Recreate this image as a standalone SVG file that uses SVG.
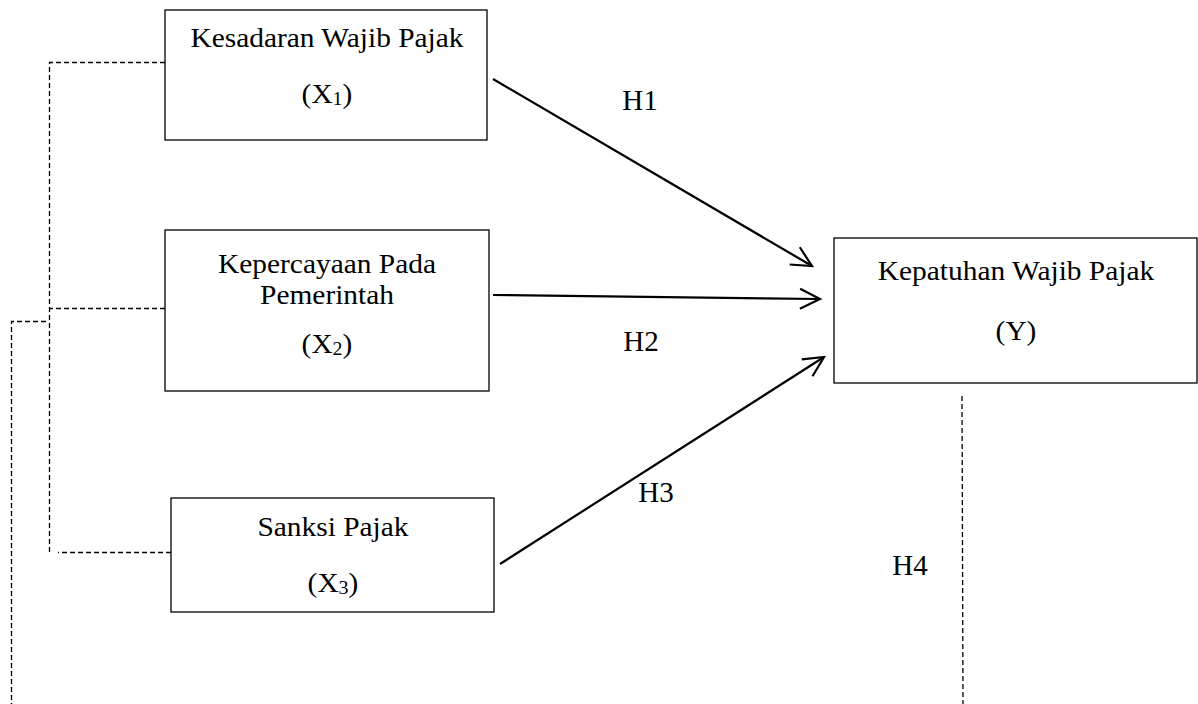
<svg xmlns="http://www.w3.org/2000/svg" width="1198" height="704" viewBox="0 0 1198 704">
<style>
.box{fill:#fff;stroke:#000;stroke-width:1.3}
.t{font-family:"Liberation Serif","Times New Roman",serif;font-size:26.5px;fill:#000;text-anchor:middle}
.sub{font-size:18px}
.h{font-family:"Liberation Serif","Times New Roman",serif;font-size:29px;fill:#000;text-anchor:middle}
.arr{stroke:#000;stroke-width:2.2;fill:none;marker-end:url(#ah)}
.dash{stroke:#000;stroke-width:1.3;fill:none;stroke-dasharray:5 3}
</style>
<defs>
<marker id="ah" markerUnits="userSpaceOnUse" markerWidth="30" markerHeight="30" viewBox="-24 -15 30 30" refX="0" refY="0" orient="auto">
<path d="M-20,-10 L0,0 L-20,10" fill="none" stroke="#000" stroke-width="2.2"/>
</marker>
</defs>
<rect width="1198" height="704" fill="#fff"/>
<g id="connectors">
<path class="dash" d="M165,62.5 H49.5 V552"/>
<path class="dash" d="M165,308.5 H49.5"/>
<path class="dash" d="M171,552.5 H58"/>
<path class="dash" d="M46,321.5 H11.5 V704"/>
<path class="dash" d="M962,396 L963,704"/>
<line class="arr" x1="493" y1="79" x2="812" y2="266"/>
<line class="arr" x1="493" y1="295" x2="820" y2="299"/>
<line class="arr" x1="500" y1="564" x2="824" y2="357"/>
</g>
<g id="x1">
<rect class="box" x="165" y="10" width="322" height="130"/>
<text class="t" transform="translate(327,47) scale(1.11,1)">Kesadaran Wajib Pajak</text>
<text class="t" transform="translate(327,103) scale(1.11,1)">(X<tspan class="sub" dy="2">1</tspan><tspan dy="-2">)</tspan></text>
</g>
<g id="x2">
<rect class="box" x="165" y="230" width="324" height="161"/>
<text class="t" transform="translate(327,273) scale(1.11,1)">Kepercayaan Pada</text>
<text class="t" transform="translate(327,304) scale(1.11,1)">Pemerintah</text>
<text class="t" transform="translate(327,353) scale(1.11,1)">(X<tspan class="sub" dy="2">2</tspan><tspan dy="-2">)</tspan></text>
</g>
<g id="x3">
<rect class="box" x="171" y="498" width="323" height="114"/>
<text class="t" transform="translate(333,536) scale(1.11,1)">Sanksi Pajak</text>
<text class="t" transform="translate(333,592) scale(1.11,1)">(X<tspan class="sub" dy="2">3</tspan><tspan dy="-2">)</tspan></text>
</g>
<g id="y">
<rect class="box" x="834" y="238" width="363" height="145"/>
<text class="t" transform="translate(1016,280) scale(1.11,1)">Kepatuhan Wajib Pajak</text>
<text class="t" transform="translate(1016,340) scale(1.11,1)">(Y)</text>
</g>
<g id="labels">
<text class="h" x="640" y="110">H1</text>
<text class="h" x="641" y="351">H2</text>
<text class="h" x="656" y="502">H3</text>
<text class="h" x="910" y="575">H4</text>
</g>
</svg>
